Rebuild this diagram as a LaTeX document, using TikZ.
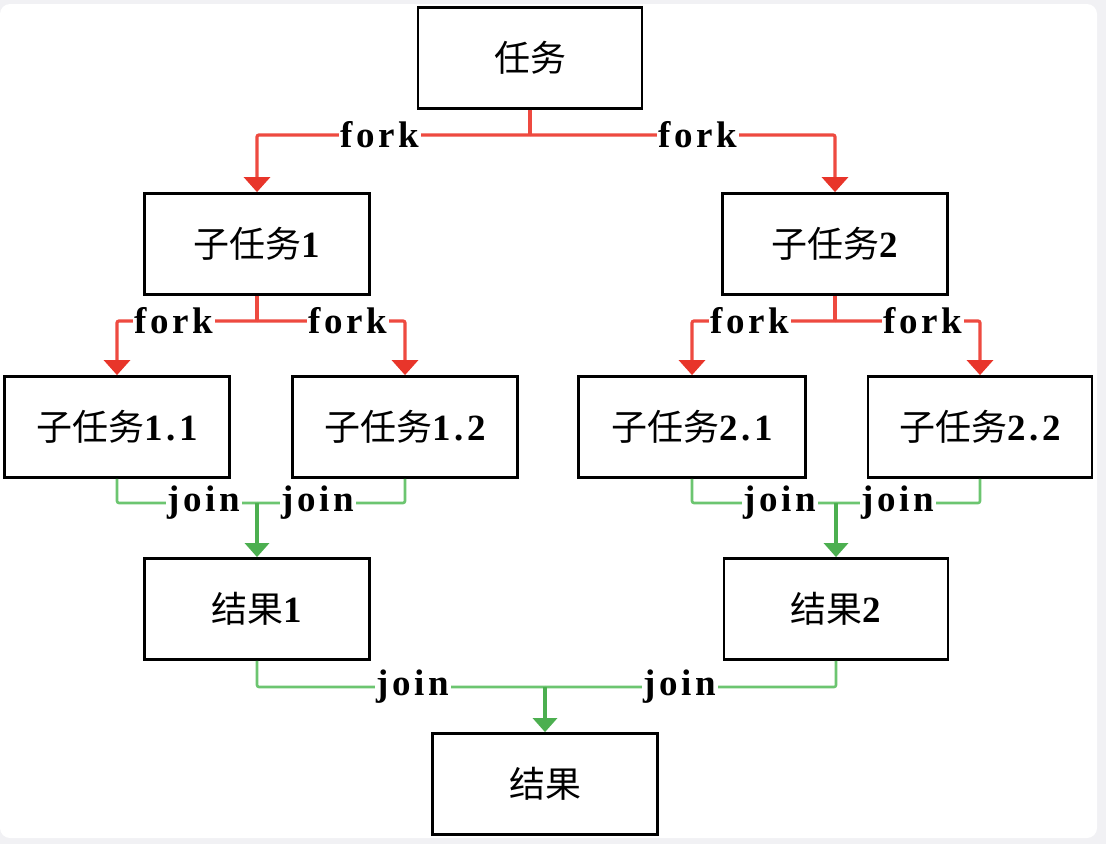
\documentclass[tikz,border=0pt]{standalone}
\usepackage{fontspec}
\setmainfont{Liberation Serif}
\newfontfamily\cjkf{Noto Sans CJK SC}
\newfontfamily\latf{Liberation Serif}[LetterSpace=10]
\usetikzlibrary{arrows.meta}
\definecolor{bg}{HTML}{F1F1F4}
\definecolor{fk}{HTML}{EE4A40}
\definecolor{fkarrow}{HTML}{E8352A}
\definecolor{jn}{HTML}{6CC570}
\definecolor{jnarrow}{HTML}{4CAF50}
\newcommand\boxtxt[2]{{\cjkf\fontsize{36}{40}\selectfont #1}{\latf\bfseries\fontsize{37}{40}\selectfont #2}}
\begin{document}
\begin{tikzpicture}[x=1pt,y=-1pt,
  taskbox/.style={draw=black, line width=2.8pt, minimum width=225pt, minimum height=101pt, inner sep=0pt, fill=white},
  forkline/.style={draw=fk, line width=3.2pt, rounded corners=2pt},
  forkarrow/.style={forkline, -{Triangle[width=26pt,length=15pt,color=fkarrow]}},
  joinline/.style={draw=jn, line width=2.6pt, rounded corners=2pt},
  joinarrow/.style={draw=jnarrow, line width=3.2pt, -{Triangle[width=24pt,length=14pt,color=jnarrow]}},
  lbl/.style={fill=white, inner xsep=1.5pt, inner ysep=0pt, font=\latf\bfseries\fontsize{37}{40}\selectfont}
]
\useasboundingbox (0,0) rectangle (1106,844);
\fill[bg] (0,0) rectangle (1106,844);
\fill[white, rounded corners=10pt] (0,4) rectangle (1097,838);

% boxes
\node[taskbox, minimum width=224pt] (t) at (530,58) {\boxtxt{任务}{}};
\node[taskbox] (s1) at (257,244) {\boxtxt{子任务}{1}};
\node[taskbox] (s2) at (835,244) {\boxtxt{子任务}{2}};
\node[taskbox] (s11) at (117,427) {\boxtxt{子任务}{1.1}};
\node[taskbox] (s12) at (405,427) {\boxtxt{子任务}{1.2}};
\node[taskbox, minimum width=227pt] (s21) at (692,427) {\boxtxt{子任务}{2.1}};
\node[taskbox, minimum width=224pt] (s22) at (980,427) {\boxtxt{子任务}{2.2}};
\node[taskbox] (r1) at (257,609) {\boxtxt{结果}{1}};
\node[taskbox, minimum width=224pt] (r2) at (836,609) {\boxtxt{结果}{2}};
\node[taskbox] (r) at (545,784) {\boxtxt{结果}{}};

% fork connectors
\coordinate (f0) at (t.south |- 0,135);
\draw[forkline] (t.south) -- (f0);
\draw[forkarrow] (f0) -| (s1.north);
\draw[forkarrow] (f0) -| (s2.north);

\coordinate (f1) at (s1.south |- 0,321);
\draw[forkline] (s1.south) -- (f1);
\draw[forkarrow] (f1) -| (s11.north);
\draw[forkarrow] (f1) -| (s12.north);

\coordinate (f2) at (s2.south |- 0,321);
\draw[forkline] (s2.south) -- (f2);
\draw[forkarrow] (f2) -| (s21.north);
\draw[forkarrow] (f2) -| (s22.north);

% join connectors
\coordinate (j1) at (r1.north |- 0,503);
\draw[joinline] (s11.south) |- (j1);
\draw[joinline] (s12.south) |- (j1);
\draw[joinarrow] (j1) -- (r1.north);

\coordinate (j2) at (r2.north |- 0,503);
\draw[joinline] (s21.south) |- (j2);
\draw[joinline] (s22.south) |- (j2);
\draw[joinarrow] (j2) -- (r2.north);

\coordinate (j0) at (r.north |- 0,687);
\draw[joinline] (r1.south) |- (j0);
\draw[joinline] (r2.south) |- (j0);
\draw[joinarrow] (j0) -- (r.north);

% labels
\node[lbl] (l1) at (380,135) {fork};
\node[lbl] (l2) at (698,135) {fork};
\node[lbl] (l3) at (174,321) {fork};
\node[lbl] (l4) at (348,321) {fork};
\node[lbl] (l5) at (750,321) {fork};
\node[lbl] (l6) at (923,321) {fork};
\node[lbl] (l7) at (204,503) {join};
\node[lbl] (l8) at (318,503) {join};
\node[lbl] (l9) at (780,503) {join};
\node[lbl] (l10) at (898,503) {join};
\node[lbl] (l11) at (413,687) {join};
\node[lbl] (l12) at (680,687) {join};
\end{tikzpicture}
\end{document}
